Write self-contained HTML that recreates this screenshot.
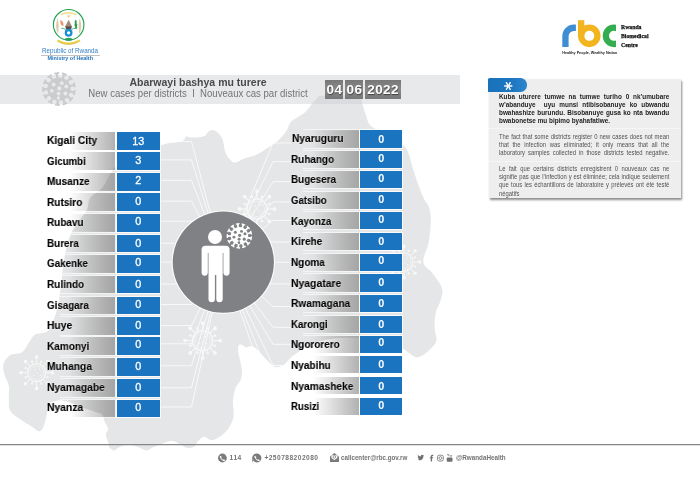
<!DOCTYPE html>
<html><head><meta charset="utf-8">
<style>
*{margin:0;padding:0;box-sizing:border-box}
html,body{width:700px;height:478px;overflow:hidden;background:#fff}
body{font-family:"Liberation Sans",sans-serif;position:relative}
.abs{position:absolute}
#bg{position:absolute;left:0;top:0;width:700px;height:478px}
.banner{position:absolute;left:0;top:75.3px;width:460px;height:28.3px;background:rgba(205,207,210,0.45)}
.row{position:absolute;height:17.7px}
.row.l{left:46px;width:114px}
.row.r{left:289px;width:113px;height:17.2px}
.row .lab{position:absolute;left:0;top:0;height:100%;box-shadow:14px 0 0 1px rgba(255,255,255,0.6);clip-path:inset(-2px -2px -2px 14px);background:linear-gradient(90deg,rgba(255,255,255,0) 0%,rgba(255,255,255,0) 34%,rgba(150,150,150,0.74) 100%)}
.row.l .lab{width:69.4px}
.row.r .lab{width:70px}
.nm{position:absolute;will-change:transform;font-weight:bold;font-size:10.8px;line-height:1.149;color:#000;white-space:nowrap;transform-origin:0 0;text-shadow:0 0 1.2px #fff,0 0 1.2px #fff;-webkit-text-stroke:0.12px #000}
.row .val{position:absolute;right:0;top:0;height:100%;background:#1a74c0;color:#fff;font-size:10.8px;text-align:center;line-height:17.7px;box-shadow:0 0 0 1px rgba(255,255,255,0.8)}
.row.l .val{width:42.7px}
.row.r .val{width:41.7px;font-weight:bold;line-height:17.2px}
.title{position:absolute;left:0;width:396px;text-align:center;white-space:nowrap}
.t1{top:76.1px;font-weight:bold;font-size:10.5px;color:#4a4a4c}
.t2{top:88.0px;font-size:10.4px;color:#737476;transform:scaleX(0.922);transform-origin:198px 0}
.date{position:absolute;top:79.7px;height:19.2px;background:linear-gradient(180deg,#777 0%,#8a8a8a 50%,#777 100%);color:#fff;font-weight:bold;font-size:13.5px;line-height:19px;text-align:center;letter-spacing:0.45px;text-indent:0.4px;text-shadow:0.5px 0.8px 1px rgba(0,0,0,.5)}
.info{position:absolute;left:488.5px;top:78.8px;width:192.5px;height:119.2px;background:#eeeeee;box-shadow:0.5px 1.5px 2px rgba(0,0,0,.45)}
.tab{position:absolute;left:488.3px;top:77.8px;width:38.4px;height:14.4px;background:linear-gradient(90deg,#1a72bb 0%,#1c76c0 60%,#2e86cc 100%);border-radius:1.5px 6.5px 6.5px 0}
.para{position:absolute;left:499.2px;width:189.2px;transform:scaleX(0.9);transform-origin:0 0;font-size:6.5px;line-height:8.05px;color:#505050;white-space:nowrap}
.para div{text-align:justify;text-align-last:justify}
.para div.ll{text-align-last:left}
.para.b{font-weight:bold;color:#1d1d1d;font-size:7.1px;line-height:8.1px}
.foot{position:absolute;top:454.3px;font-size:6.6px;font-weight:bold;color:#737373;white-space:nowrap;letter-spacing:0.1px}
.rbct{font-family:"Liberation Serif",serif;font-weight:bold;font-size:6.300px;line-height:8px;color:#111;white-space:nowrap;transform:scaleX(0.914);-webkit-text-stroke:0.25px #111;transform-origin:0 0}
#wrap{position:absolute;left:0;top:0;width:700px;height:478px;will-change:transform}
.val span{position:relative;display:inline-block}
.row.l .val span{-webkit-text-stroke:0.3px #fff;left:-0.5px}
</style></head><body><div id="wrap">
<svg id="bg" viewBox="0 0 700 478">
<defs><g id="vs"><circle cx="0" cy="0" r="11.6"/><path d="M10.58 1.24L14.71 2.06L15.52 0.70L16.92 1.32L15.87 6.01L14.34 5.97L14.18 4.40L10.10 3.39Z"/><path d="M8.80 6.02L12.06 8.66L13.42 7.84L14.37 9.04L11.26 12.70L9.92 11.95L10.51 10.49L7.37 7.69Z"/><path d="M4.99 9.42L6.66 13.27L8.24 13.17L8.52 14.68L4.07 16.48L3.23 15.20L4.43 14.17L2.95 10.24Z"/><path d="M0.05 10.66L-0.27 14.85L1.17 15.49L0.72 16.96L-4.05 16.48L-4.20 14.96L-2.66 14.61L-2.14 10.44Z"/><path d="M-4.91 9.46L-7.14 13.02L-6.16 14.26L-7.24 15.35L-11.25 12.71L-10.67 11.29L-9.14 11.70L-6.75 8.25Z"/><path d="M-8.74 6.09L-12.37 8.21L-12.08 9.77L-13.54 10.23L-15.86 6.03L-14.70 5.04L-13.53 6.11L-9.81 4.17Z"/><path d="M-10.57 1.33L-14.77 1.52L-15.24 3.03L-16.74 2.76L-16.85 -2.04L-15.35 -2.37L-14.82 -0.88L-10.62 -0.87Z"/><path d="M-9.98 -3.74L-13.79 -5.52L-14.90 -4.40L-16.11 -5.33L-13.97 -9.63L-12.50 -9.23L-12.72 -7.67L-9.00 -5.71Z"/><path d="M-7.10 -7.95L-9.64 -11.29L-11.15 -10.82L-11.79 -12.21L-7.90 -15.02L-6.77 -13.98L-7.70 -12.70L-5.32 -9.24Z"/><path d="M-2.59 -10.34L-3.29 -14.48L-4.85 -14.76L-4.76 -16.29L-0.01 -16.97L0.50 -15.53L-0.91 -14.82L-0.42 -10.65Z"/><path d="M2.51 -10.36L3.82 -14.35L2.57 -15.32L3.35 -16.64L7.88 -15.03L7.66 -13.52L6.08 -13.55L4.58 -9.62Z"/><path d="M7.03 -8.01L10.05 -10.93L9.40 -12.37L10.70 -13.17L13.96 -9.65L13.06 -8.41L11.68 -9.17L8.53 -6.39Z"/><path d="M9.95 -3.82L13.98 -5.01L14.07 -6.59L15.60 -6.69L16.85 -2.06L15.48 -1.38L14.60 -2.69L10.52 -1.70Z"/></g><g id="vh"><circle cx="0.3" cy="-0.6" r="2.1"/><circle cx="-5.4" cy="-4.6" r="2.0"/><circle cx="2.8" cy="-5.8" r="1.9"/><circle cx="7.3" cy="-2.6" r="2.0"/><circle cx="-7.2" cy="1.8" r="1.9"/><circle cx="-0.4" cy="4.6" r="1.9"/><circle cx="6.4" cy="4.4" r="2.0"/><circle cx="-0.6" cy="9.0" r="1.7"/></g><g id="vo"><circle cx="0" cy="0" r="10" fill="none" stroke="currentColor" stroke-width="1.3"/><circle cx="0" cy="0" r="7.6" fill="none" stroke="currentColor" stroke-width="0.6"/><line x1="10.50" y1="0.00" x2="17.50" y2="0.00" stroke-width="1.1" stroke="currentColor"/><circle cx="17.50" cy="0.00" r="1.9" fill="currentColor"/><line x1="9.70" y1="4.02" x2="12.29" y2="5.09" stroke-width="0.8" stroke="currentColor"/><circle cx="12.29" cy="5.09" r="1.2" fill="currentColor"/><line x1="7.42" y1="7.42" x2="12.37" y2="12.37" stroke-width="1.1" stroke="currentColor"/><circle cx="12.37" cy="12.37" r="1.9" fill="currentColor"/><line x1="4.02" y1="9.70" x2="5.09" y2="12.29" stroke-width="0.8" stroke="currentColor"/><circle cx="5.09" cy="12.29" r="1.2" fill="currentColor"/><line x1="0.00" y1="10.50" x2="0.00" y2="17.50" stroke-width="1.1" stroke="currentColor"/><circle cx="0.00" cy="17.50" r="1.9" fill="currentColor"/><line x1="-4.02" y1="9.70" x2="-5.09" y2="12.29" stroke-width="0.8" stroke="currentColor"/><circle cx="-5.09" cy="12.29" r="1.2" fill="currentColor"/><line x1="-7.42" y1="7.42" x2="-12.37" y2="12.37" stroke-width="1.1" stroke="currentColor"/><circle cx="-12.37" cy="12.37" r="1.9" fill="currentColor"/><line x1="-9.70" y1="4.02" x2="-12.29" y2="5.09" stroke-width="0.8" stroke="currentColor"/><circle cx="-12.29" cy="5.09" r="1.2" fill="currentColor"/><line x1="-10.50" y1="0.00" x2="-17.50" y2="0.00" stroke-width="1.1" stroke="currentColor"/><circle cx="-17.50" cy="0.00" r="1.9" fill="currentColor"/><line x1="-9.70" y1="-4.02" x2="-12.29" y2="-5.09" stroke-width="0.8" stroke="currentColor"/><circle cx="-12.29" cy="-5.09" r="1.2" fill="currentColor"/><line x1="-7.42" y1="-7.42" x2="-12.37" y2="-12.37" stroke-width="1.1" stroke="currentColor"/><circle cx="-12.37" cy="-12.37" r="1.9" fill="currentColor"/><line x1="-4.02" y1="-9.70" x2="-5.09" y2="-12.29" stroke-width="0.8" stroke="currentColor"/><circle cx="-5.09" cy="-12.29" r="1.2" fill="currentColor"/><line x1="-0.00" y1="-10.50" x2="-0.00" y2="-17.50" stroke-width="1.1" stroke="currentColor"/><circle cx="-0.00" cy="-17.50" r="1.9" fill="currentColor"/><line x1="4.02" y1="-9.70" x2="5.09" y2="-12.29" stroke-width="0.8" stroke="currentColor"/><circle cx="5.09" cy="-12.29" r="1.2" fill="currentColor"/><line x1="7.42" y1="-7.42" x2="12.37" y2="-12.37" stroke-width="1.1" stroke="currentColor"/><circle cx="12.37" cy="-12.37" r="1.9" fill="currentColor"/><line x1="9.70" y1="-4.02" x2="12.29" y2="-5.09" stroke-width="0.8" stroke="currentColor"/><circle cx="12.29" cy="-5.09" r="1.2" fill="currentColor"/><circle cx="-2" cy="-3" r="0.8" fill="currentColor"/><circle cx="3" cy="-4" r="0.8" fill="currentColor"/><circle cx="1" cy="1" r="0.8" fill="currentColor"/><circle cx="-3" cy="3" r="0.8" fill="currentColor"/><circle cx="4" cy="3" r="0.8" fill="currentColor"/></g></defs>
<path id="map" fill="#e5e6e7" d="M117.0 166.0C121.8 163.2 132.5 159.5 140.0 156.0C147.5 152.5 155.1 147.4 162.0 145.0C168.9 142.6 177.5 142.7 181.6 141.3C185.7 139.9 184.6 137.2 186.4 136.6C188.2 136.0 189.5 137.7 192.5 137.6C195.5 137.5 202.0 137.0 204.6 136.0C207.2 135.0 206.8 132.6 208.3 131.6C209.8 130.6 211.8 129.8 213.6 130.2C215.4 130.6 217.7 132.4 219.2 134.0C220.7 135.6 221.8 137.0 222.8 140.0C223.8 143.0 224.1 148.9 225.3 152.2C226.5 155.4 228.5 157.8 230.1 159.5C231.7 161.2 232.6 162.9 235.0 162.7C237.4 162.5 241.1 159.7 244.7 158.3C248.3 157.0 253.2 156.2 256.8 154.6C260.5 153.0 263.0 151.0 266.6 148.6C270.2 146.2 275.5 142.8 278.7 140.0C281.9 137.2 284.0 134.6 286.0 131.6C288.0 128.6 288.8 124.3 290.8 121.9C292.8 119.5 295.6 118.7 298.0 117.0C300.4 115.3 303.0 114.3 305.4 112.0C307.8 109.7 310.4 105.6 312.3 103.4C314.2 101.2 315.1 100.1 316.5 98.8C317.9 97.5 317.1 96.4 321.0 95.8C324.9 95.2 333.9 95.2 340.0 95.2C346.1 95.2 354.1 95.2 357.5 95.7C360.9 96.2 359.8 97.2 360.6 98.5C361.4 99.8 361.5 100.9 362.3 103.4C363.1 105.9 364.0 109.7 365.4 113.4C366.8 117.1 367.4 122.5 370.7 125.8C374.0 129.1 379.8 130.0 385.0 133.0C390.2 136.0 398.2 140.8 402.0 144.0C405.8 147.2 406.3 148.2 408.0 152.0C409.7 155.8 410.9 162.0 412.4 166.8C413.9 171.6 415.1 175.7 417.0 181.0C418.9 186.3 422.0 194.5 424.0 198.8C426.0 203.1 427.8 203.7 428.9 207.0C430.0 210.3 430.8 213.1 430.8 218.8C430.8 224.5 430.1 234.2 428.9 241.4C427.6 248.6 422.7 256.7 423.3 262.0C423.9 267.3 429.6 269.0 432.7 273.4C435.8 277.8 440.9 283.7 442.1 288.4C443.4 293.1 441.3 297.5 440.2 301.6C439.1 305.7 436.6 308.5 435.7 312.9C434.8 317.3 434.5 323.2 434.6 327.9C434.7 332.6 437.3 337.3 436.4 341.1C435.4 344.9 432.0 347.8 428.9 350.5C425.8 353.2 421.1 357.0 417.6 357.3C414.2 357.6 410.7 353.8 408.2 352.4C405.7 350.9 407.3 350.7 402.6 348.6C397.9 346.5 390.4 341.8 380.0 340.0C369.6 338.2 351.7 337.3 340.0 338.0C328.3 338.7 316.7 341.8 310.0 344.0C303.3 346.2 303.0 348.9 300.0 351.0C297.0 353.1 294.7 354.2 292.0 356.5C289.3 358.8 286.0 363.1 283.7 364.9C281.4 366.6 279.8 366.8 278.0 367.0C276.2 367.2 275.5 367.6 273.2 365.9C270.9 364.2 267.0 360.0 264.0 357.0C261.0 354.0 257.7 349.8 255.4 348.0C253.1 346.2 251.6 346.4 250.0 346.3C248.4 346.2 247.2 347.8 246.0 347.6C244.8 347.4 244.1 345.8 243.0 345.3C241.9 344.8 240.0 344.2 239.2 344.8C238.4 345.4 238.1 347.4 238.0 349.0C237.9 350.6 238.1 351.1 238.7 354.4C239.3 357.7 241.5 364.8 241.8 369.0C242.2 373.2 241.8 376.4 240.8 379.5C239.8 382.6 236.9 384.4 235.6 387.9C234.3 391.4 233.3 396.1 233.0 400.4C232.7 404.7 233.9 410.2 233.7 413.8C233.5 417.4 233.3 418.8 232.0 421.7C230.7 424.6 228.6 428.6 226.0 431.4C223.4 434.2 218.9 437.3 216.3 438.7C213.7 440.1 212.2 440.3 210.2 440.0C208.2 439.7 206.1 436.6 204.1 436.8C202.1 437.0 199.6 439.5 198.0 441.1C196.4 442.7 196.2 445.4 194.4 446.5C192.6 447.6 189.3 448.3 187.1 448.0C184.9 447.7 183.4 445.9 181.0 444.8C178.6 443.7 175.2 441.5 172.6 441.1C170.0 440.7 168.6 441.4 165.3 442.4C162.1 443.4 156.2 445.9 153.1 447.2C150.0 448.5 149.4 450.4 147.0 450.4C144.6 450.4 141.6 448.1 138.6 447.2C135.6 446.3 132.2 445.0 128.9 445.0C125.7 445.0 121.5 446.3 119.1 447.2C116.7 448.1 115.9 450.4 114.3 450.4C112.7 450.4 110.4 448.5 109.4 447.2C108.4 445.9 108.8 444.6 108.2 442.4C107.6 440.2 105.8 436.1 105.8 433.9C105.8 431.7 108.4 431.0 108.2 429.0C108.0 427.0 105.6 424.1 104.6 421.7C103.6 419.3 103.6 416.2 102.0 414.5C100.4 412.8 98.1 412.8 95.0 411.7C91.9 410.6 87.2 409.4 83.4 408.0C79.6 406.6 75.5 404.6 72.0 403.3C68.5 402.1 65.2 400.9 62.4 400.5C59.6 400.1 57.3 400.4 55.0 401.0C52.7 401.6 49.9 401.9 48.5 404.0C47.1 406.1 47.7 410.1 46.9 413.7C46.1 417.3 45.1 422.5 43.9 425.4C42.7 428.3 41.5 431.1 39.5 431.3C37.5 431.6 35.4 428.8 32.2 426.9C29.0 424.9 24.2 422.3 20.5 419.6C16.8 416.9 12.1 414.2 10.2 410.8C8.2 407.4 9.0 403.1 8.8 399.0C8.6 394.9 9.5 390.0 8.8 385.9C8.1 381.8 5.3 377.9 4.4 374.2C3.5 370.5 2.5 367.1 3.5 363.9C4.5 360.7 7.1 357.1 10.2 355.1C13.3 353.2 18.8 354.4 22.0 352.2C25.2 350.0 27.1 344.9 29.3 342.0C31.5 339.1 32.2 336.3 35.1 334.6C38.0 332.9 44.1 333.5 46.9 331.7C49.7 329.9 50.1 328.3 52.0 324.0C53.9 319.7 56.5 312.5 58.0 306.0C59.5 299.5 60.0 292.7 61.0 285.0C62.0 277.3 62.5 268.2 64.0 260.0C65.5 251.8 67.5 242.5 70.0 236.0C72.5 229.5 76.2 225.3 79.0 221.0C81.8 216.7 85.2 213.8 87.0 210.0C88.8 206.2 87.5 201.7 90.0 198.0C92.5 194.3 98.5 192.2 102.0 188.0C105.5 183.8 108.5 176.7 111.0 173.0C113.5 169.3 112.2 168.8 117.0 166.0Z"/>
<linearGradient id="dkl" gradientUnits="userSpaceOnUse" x1="60" y1="0" x2="116" y2="0"><stop offset="0" stop-color="#000" stop-opacity="0"/><stop offset="1" stop-color="#000" stop-opacity="0.11"/></linearGradient>
<linearGradient id="dkr" gradientUnits="userSpaceOnUse" x1="303" y1="0" x2="359" y2="0"><stop offset="0" stop-color="#000" stop-opacity="0"/><stop offset="1" stop-color="#000" stop-opacity="0.09"/></linearGradient>
<clipPath id="lcl"><rect x="46" y="132.20" width="69.4" height="17.7"/><rect x="46" y="152.20" width="69.4" height="17.7"/><rect x="46" y="172.90" width="69.4" height="17.7"/><rect x="46" y="193.20" width="69.4" height="17.7"/><rect x="46" y="213.90" width="69.4" height="17.7"/><rect x="46" y="234.80" width="69.4" height="17.7"/><rect x="46" y="255.00" width="69.4" height="17.7"/><rect x="46" y="275.80" width="69.4" height="17.7"/><rect x="46" y="296.80" width="69.4" height="17.7"/><rect x="46" y="317.40" width="69.4" height="17.7"/><rect x="46" y="337.20" width="69.4" height="17.7"/><rect x="46" y="358.00" width="69.4" height="17.7"/><rect x="46" y="378.90" width="69.4" height="17.7"/><rect x="46" y="399.60" width="69.4" height="17.7"/></clipPath><clipPath id="lcr"><rect x="289" y="130.40" width="70" height="17.2"/><rect x="289" y="150.90" width="70" height="17.2"/><rect x="289" y="171.30" width="70" height="17.2"/><rect x="289" y="191.80" width="70" height="17.2"/><rect x="289" y="212.30" width="70" height="17.2"/><rect x="289" y="233.00" width="70" height="17.2"/><rect x="289" y="253.60" width="70" height="17.2"/><rect x="289" y="274.40" width="70" height="17.2"/><rect x="289" y="295.30" width="70" height="17.2"/><rect x="289" y="315.80" width="70" height="17.2"/><rect x="289" y="335.60" width="70" height="17.2"/><rect x="289" y="356.30" width="70" height="17.2"/><rect x="289" y="377.20" width="70" height="17.2"/><rect x="289" y="398.30" width="70" height="17.2"/></clipPath>
<path d="M117.0 166.0C121.8 163.2 132.5 159.5 140.0 156.0C147.5 152.5 155.1 147.4 162.0 145.0C168.9 142.6 177.5 142.7 181.6 141.3C185.7 139.9 184.6 137.2 186.4 136.6C188.2 136.0 189.5 137.7 192.5 137.6C195.5 137.5 202.0 137.0 204.6 136.0C207.2 135.0 206.8 132.6 208.3 131.6C209.8 130.6 211.8 129.8 213.6 130.2C215.4 130.6 217.7 132.4 219.2 134.0C220.7 135.6 221.8 137.0 222.8 140.0C223.8 143.0 224.1 148.9 225.3 152.2C226.5 155.4 228.5 157.8 230.1 159.5C231.7 161.2 232.6 162.9 235.0 162.7C237.4 162.5 241.1 159.7 244.7 158.3C248.3 157.0 253.2 156.2 256.8 154.6C260.5 153.0 263.0 151.0 266.6 148.6C270.2 146.2 275.5 142.8 278.7 140.0C281.9 137.2 284.0 134.6 286.0 131.6C288.0 128.6 288.8 124.3 290.8 121.9C292.8 119.5 295.6 118.7 298.0 117.0C300.4 115.3 303.0 114.3 305.4 112.0C307.8 109.7 310.4 105.6 312.3 103.4C314.2 101.2 315.1 100.1 316.5 98.8C317.9 97.5 317.1 96.4 321.0 95.8C324.9 95.2 333.9 95.2 340.0 95.2C346.1 95.2 354.1 95.2 357.5 95.7C360.9 96.2 359.8 97.2 360.6 98.5C361.4 99.8 361.5 100.9 362.3 103.4C363.1 105.9 364.0 109.7 365.4 113.4C366.8 117.1 367.4 122.5 370.7 125.8C374.0 129.1 379.8 130.0 385.0 133.0C390.2 136.0 398.2 140.8 402.0 144.0C405.8 147.2 406.3 148.2 408.0 152.0C409.7 155.8 410.9 162.0 412.4 166.8C413.9 171.6 415.1 175.7 417.0 181.0C418.9 186.3 422.0 194.5 424.0 198.8C426.0 203.1 427.8 203.7 428.9 207.0C430.0 210.3 430.8 213.1 430.8 218.8C430.8 224.5 430.1 234.2 428.9 241.4C427.6 248.6 422.7 256.7 423.3 262.0C423.9 267.3 429.6 269.0 432.7 273.4C435.8 277.8 440.9 283.7 442.1 288.4C443.4 293.1 441.3 297.5 440.2 301.6C439.1 305.7 436.6 308.5 435.7 312.9C434.8 317.3 434.5 323.2 434.6 327.9C434.7 332.6 437.3 337.3 436.4 341.1C435.4 344.9 432.0 347.8 428.9 350.5C425.8 353.2 421.1 357.0 417.6 357.3C414.2 357.6 410.7 353.8 408.2 352.4C405.7 350.9 407.3 350.7 402.6 348.6C397.9 346.5 390.4 341.8 380.0 340.0C369.6 338.2 351.7 337.3 340.0 338.0C328.3 338.7 316.7 341.8 310.0 344.0C303.3 346.2 303.0 348.9 300.0 351.0C297.0 353.1 294.7 354.2 292.0 356.5C289.3 358.8 286.0 363.1 283.7 364.9C281.4 366.6 279.8 366.8 278.0 367.0C276.2 367.2 275.5 367.6 273.2 365.9C270.9 364.2 267.0 360.0 264.0 357.0C261.0 354.0 257.7 349.8 255.4 348.0C253.1 346.2 251.6 346.4 250.0 346.3C248.4 346.2 247.2 347.8 246.0 347.6C244.8 347.4 244.1 345.8 243.0 345.3C241.9 344.8 240.0 344.2 239.2 344.8C238.4 345.4 238.1 347.4 238.0 349.0C237.9 350.6 238.1 351.1 238.7 354.4C239.3 357.7 241.5 364.8 241.8 369.0C242.2 373.2 241.8 376.4 240.8 379.5C239.8 382.6 236.9 384.4 235.6 387.9C234.3 391.4 233.3 396.1 233.0 400.4C232.7 404.7 233.9 410.2 233.7 413.8C233.5 417.4 233.3 418.8 232.0 421.7C230.7 424.6 228.6 428.6 226.0 431.4C223.4 434.2 218.9 437.3 216.3 438.7C213.7 440.1 212.2 440.3 210.2 440.0C208.2 439.7 206.1 436.6 204.1 436.8C202.1 437.0 199.6 439.5 198.0 441.1C196.4 442.7 196.2 445.4 194.4 446.5C192.6 447.6 189.3 448.3 187.1 448.0C184.9 447.7 183.4 445.9 181.0 444.8C178.6 443.7 175.2 441.5 172.6 441.1C170.0 440.7 168.6 441.4 165.3 442.4C162.1 443.4 156.2 445.9 153.1 447.2C150.0 448.5 149.4 450.4 147.0 450.4C144.6 450.4 141.6 448.1 138.6 447.2C135.6 446.3 132.2 445.0 128.9 445.0C125.7 445.0 121.5 446.3 119.1 447.2C116.7 448.1 115.9 450.4 114.3 450.4C112.7 450.4 110.4 448.5 109.4 447.2C108.4 445.9 108.8 444.6 108.2 442.4C107.6 440.2 105.8 436.1 105.8 433.9C105.8 431.7 108.4 431.0 108.2 429.0C108.0 427.0 105.6 424.1 104.6 421.7C103.6 419.3 103.6 416.2 102.0 414.5C100.4 412.8 98.1 412.8 95.0 411.7C91.9 410.6 87.2 409.4 83.4 408.0C79.6 406.6 75.5 404.6 72.0 403.3C68.5 402.1 65.2 400.9 62.4 400.5C59.6 400.1 57.3 400.4 55.0 401.0C52.7 401.6 49.9 401.9 48.5 404.0C47.1 406.1 47.7 410.1 46.9 413.7C46.1 417.3 45.1 422.5 43.9 425.4C42.7 428.3 41.5 431.1 39.5 431.3C37.5 431.6 35.4 428.8 32.2 426.9C29.0 424.9 24.2 422.3 20.5 419.6C16.8 416.9 12.1 414.2 10.2 410.8C8.2 407.4 9.0 403.1 8.8 399.0C8.6 394.9 9.5 390.0 8.8 385.9C8.1 381.8 5.3 377.9 4.4 374.2C3.5 370.5 2.5 367.1 3.5 363.9C4.5 360.7 7.1 357.1 10.2 355.1C13.3 353.2 18.8 354.4 22.0 352.2C25.2 350.0 27.1 344.9 29.3 342.0C31.5 339.1 32.2 336.3 35.1 334.6C38.0 332.9 44.1 333.5 46.9 331.7C49.7 329.9 50.1 328.3 52.0 324.0C53.9 319.7 56.5 312.5 58.0 306.0C59.5 299.5 60.0 292.7 61.0 285.0C62.0 277.3 62.5 268.2 64.0 260.0C65.5 251.8 67.5 242.5 70.0 236.0C72.5 229.5 76.2 225.3 79.0 221.0C81.8 216.7 85.2 213.8 87.0 210.0C88.8 206.2 87.5 201.7 90.0 198.0C92.5 194.3 98.5 192.2 102.0 188.0C105.5 183.8 108.5 176.7 111.0 173.0C113.5 169.3 112.2 168.8 117.0 166.0Z" fill="url(#dkl)" clip-path="url(#lcl)"/><path d="M117.0 166.0C121.8 163.2 132.5 159.5 140.0 156.0C147.5 152.5 155.1 147.4 162.0 145.0C168.9 142.6 177.5 142.7 181.6 141.3C185.7 139.9 184.6 137.2 186.4 136.6C188.2 136.0 189.5 137.7 192.5 137.6C195.5 137.5 202.0 137.0 204.6 136.0C207.2 135.0 206.8 132.6 208.3 131.6C209.8 130.6 211.8 129.8 213.6 130.2C215.4 130.6 217.7 132.4 219.2 134.0C220.7 135.6 221.8 137.0 222.8 140.0C223.8 143.0 224.1 148.9 225.3 152.2C226.5 155.4 228.5 157.8 230.1 159.5C231.7 161.2 232.6 162.9 235.0 162.7C237.4 162.5 241.1 159.7 244.7 158.3C248.3 157.0 253.2 156.2 256.8 154.6C260.5 153.0 263.0 151.0 266.6 148.6C270.2 146.2 275.5 142.8 278.7 140.0C281.9 137.2 284.0 134.6 286.0 131.6C288.0 128.6 288.8 124.3 290.8 121.9C292.8 119.5 295.6 118.7 298.0 117.0C300.4 115.3 303.0 114.3 305.4 112.0C307.8 109.7 310.4 105.6 312.3 103.4C314.2 101.2 315.1 100.1 316.5 98.8C317.9 97.5 317.1 96.4 321.0 95.8C324.9 95.2 333.9 95.2 340.0 95.2C346.1 95.2 354.1 95.2 357.5 95.7C360.9 96.2 359.8 97.2 360.6 98.5C361.4 99.8 361.5 100.9 362.3 103.4C363.1 105.9 364.0 109.7 365.4 113.4C366.8 117.1 367.4 122.5 370.7 125.8C374.0 129.1 379.8 130.0 385.0 133.0C390.2 136.0 398.2 140.8 402.0 144.0C405.8 147.2 406.3 148.2 408.0 152.0C409.7 155.8 410.9 162.0 412.4 166.8C413.9 171.6 415.1 175.7 417.0 181.0C418.9 186.3 422.0 194.5 424.0 198.8C426.0 203.1 427.8 203.7 428.9 207.0C430.0 210.3 430.8 213.1 430.8 218.8C430.8 224.5 430.1 234.2 428.9 241.4C427.6 248.6 422.7 256.7 423.3 262.0C423.9 267.3 429.6 269.0 432.7 273.4C435.8 277.8 440.9 283.7 442.1 288.4C443.4 293.1 441.3 297.5 440.2 301.6C439.1 305.7 436.6 308.5 435.7 312.9C434.8 317.3 434.5 323.2 434.6 327.9C434.7 332.6 437.3 337.3 436.4 341.1C435.4 344.9 432.0 347.8 428.9 350.5C425.8 353.2 421.1 357.0 417.6 357.3C414.2 357.6 410.7 353.8 408.2 352.4C405.7 350.9 407.3 350.7 402.6 348.6C397.9 346.5 390.4 341.8 380.0 340.0C369.6 338.2 351.7 337.3 340.0 338.0C328.3 338.7 316.7 341.8 310.0 344.0C303.3 346.2 303.0 348.9 300.0 351.0C297.0 353.1 294.7 354.2 292.0 356.5C289.3 358.8 286.0 363.1 283.7 364.9C281.4 366.6 279.8 366.8 278.0 367.0C276.2 367.2 275.5 367.6 273.2 365.9C270.9 364.2 267.0 360.0 264.0 357.0C261.0 354.0 257.7 349.8 255.4 348.0C253.1 346.2 251.6 346.4 250.0 346.3C248.4 346.2 247.2 347.8 246.0 347.6C244.8 347.4 244.1 345.8 243.0 345.3C241.9 344.8 240.0 344.2 239.2 344.8C238.4 345.4 238.1 347.4 238.0 349.0C237.9 350.6 238.1 351.1 238.7 354.4C239.3 357.7 241.5 364.8 241.8 369.0C242.2 373.2 241.8 376.4 240.8 379.5C239.8 382.6 236.9 384.4 235.6 387.9C234.3 391.4 233.3 396.1 233.0 400.4C232.7 404.7 233.9 410.2 233.7 413.8C233.5 417.4 233.3 418.8 232.0 421.7C230.7 424.6 228.6 428.6 226.0 431.4C223.4 434.2 218.9 437.3 216.3 438.7C213.7 440.1 212.2 440.3 210.2 440.0C208.2 439.7 206.1 436.6 204.1 436.8C202.1 437.0 199.6 439.5 198.0 441.1C196.4 442.7 196.2 445.4 194.4 446.5C192.6 447.6 189.3 448.3 187.1 448.0C184.9 447.7 183.4 445.9 181.0 444.8C178.6 443.7 175.2 441.5 172.6 441.1C170.0 440.7 168.6 441.4 165.3 442.4C162.1 443.4 156.2 445.9 153.1 447.2C150.0 448.5 149.4 450.4 147.0 450.4C144.6 450.4 141.6 448.1 138.6 447.2C135.6 446.3 132.2 445.0 128.9 445.0C125.7 445.0 121.5 446.3 119.1 447.2C116.7 448.1 115.9 450.4 114.3 450.4C112.7 450.4 110.4 448.5 109.4 447.2C108.4 445.9 108.8 444.6 108.2 442.4C107.6 440.2 105.8 436.1 105.8 433.9C105.8 431.7 108.4 431.0 108.2 429.0C108.0 427.0 105.6 424.1 104.6 421.7C103.6 419.3 103.6 416.2 102.0 414.5C100.4 412.8 98.1 412.8 95.0 411.7C91.9 410.6 87.2 409.4 83.4 408.0C79.6 406.6 75.5 404.6 72.0 403.3C68.5 402.1 65.2 400.9 62.4 400.5C59.6 400.1 57.3 400.4 55.0 401.0C52.7 401.6 49.9 401.9 48.5 404.0C47.1 406.1 47.7 410.1 46.9 413.7C46.1 417.3 45.1 422.5 43.9 425.4C42.7 428.3 41.5 431.1 39.5 431.3C37.5 431.6 35.4 428.8 32.2 426.9C29.0 424.9 24.2 422.3 20.5 419.6C16.8 416.9 12.1 414.2 10.2 410.8C8.2 407.4 9.0 403.1 8.8 399.0C8.6 394.9 9.5 390.0 8.8 385.9C8.1 381.8 5.3 377.9 4.4 374.2C3.5 370.5 2.5 367.1 3.5 363.9C4.5 360.7 7.1 357.1 10.2 355.1C13.3 353.2 18.8 354.4 22.0 352.2C25.2 350.0 27.1 344.9 29.3 342.0C31.5 339.1 32.2 336.3 35.1 334.6C38.0 332.9 44.1 333.5 46.9 331.7C49.7 329.9 50.1 328.3 52.0 324.0C53.9 319.7 56.5 312.5 58.0 306.0C59.5 299.5 60.0 292.7 61.0 285.0C62.0 277.3 62.5 268.2 64.0 260.0C65.5 251.8 67.5 242.5 70.0 236.0C72.5 229.5 76.2 225.3 79.0 221.0C81.8 216.7 85.2 213.8 87.0 210.0C88.8 206.2 87.5 201.7 90.0 198.0C92.5 194.3 98.5 192.2 102.0 188.0C105.5 183.8 108.5 176.7 111.0 173.0C113.5 169.3 112.2 168.8 117.0 166.0Z" fill="url(#dkr)" clip-path="url(#lcr)"/>
<path d="M160 141.6H191.5L223.3 262.2 M160 159.9H191.5L223.3 262.2 M160 180.3H191.5L223.3 262.2 M160 201.1H191.5L223.3 262.2 M160 221.2H191.5L223.3 262.2 M160 243.2H223.3 M160 262.1H223.3 M160 284.1H223.3 M160 304.5H191.5L223.3 262.2 M160 325.6H191.5L223.3 262.2 M160 343.8H191.5L223.3 262.2 M160 365.8H191.5L223.3 262.2 M160 387.8H191.5L223.3 262.2 M160 407.0H191.5L223.3 262.2 M291 143.0H273.0L223.3 262.2 M291 161.6H273.0L223.3 262.2 M291 181.7H273.0L223.3 262.2 M291 201.9H273.0L223.3 262.2 M291 220.4H273.0L223.3 262.2 M291 242.0H223.3 M291 262.2H223.3 M291 283.9H223.3 M291 306.5H273.0L223.3 262.2 M291 327.3H273.0L223.3 262.2 M291 344.3H273.0L223.3 262.2 M291 365.5H273.0L223.3 262.2 M291 386.0H273.0L223.3 262.2 M291 406.6H273.0L223.3 262.2" fill="none" stroke="#fff" stroke-opacity="0.75" stroke-width="1"/>
<g color="#f8f8f8">
<use href="#vo" transform="translate(257,209)"/>
<use href="#vo" transform="translate(202.6,340.6)"/>
<use href="#vo" transform="translate(36.6,372.7) scale(0.9)"/>
<use href="#vo" transform="translate(404,262) scale(0.9)"/>
</g>
<line x1="0" y1="444.6" x2="700" y2="444.6" stroke="#858585" stroke-width="1.4"/>
</svg>
<div class="banner"></div>
<svg class="abs" style="left:0;top:0" width="700" height="478" viewBox="0 0 700 478">
<g fill="#cbcccd"><use href="#vs" transform="translate(59,89)"/></g><g fill="#e8e9ea"><use href="#vh" transform="translate(59,89)"/></g>
<!-- centre circle -->
<circle cx="223.3" cy="262.2" r="51.6" fill="#fff"/>
<circle cx="223.3" cy="262.2" r="50.6" fill="#808184"/>
<g fill="#fff">
<circle cx="215" cy="237" r="7"/>
<path d="M204.2 245.7 H225.8 a3.8 3.8 0 0 1 3.8 3.8 V272.6 a3.1 3.1 0 0 1 -6.2 0 V253 h-0.7 V299 a3.2 3.2 0 0 1 -6.4 0 V275 h-1.4 V299 a3.2 3.2 0 0 1 -6.4 0 V253 h-0.7 V272.6 a3.1 3.1 0 0 1 -6.2 0 V249.5 a3.8 3.8 0 0 1 3.8 -3.8 Z"/>
</g>
<g fill="#fff"><use href="#vs" transform="translate(239.4,235.8) scale(0.76)"/></g><g fill="#808184"><use href="#vh" transform="translate(239.4,235.8) scale(0.76)"/></g>
</svg>
<!-- Rwanda coat of arms -->
<svg class="abs" style="left:40px;top:0" width="70" height="70" viewBox="40 0 70 70">
<circle cx="68.65" cy="24.8" r="15.25" fill="#fff" stroke="#22a355" stroke-width="1.15"/>
<path d="M61 14.6 Q68.6 10.9 76.4 14.6" fill="none" stroke="#ead666" stroke-width="1.4" opacity=".8"/>
<circle cx="68.6" cy="16.3" r="1.15" fill="#efd04a"/>
<path d="M57.6 18.2 Q54.4 26 57.9 34 Q59.600 26 57.6 18.2Z" fill="#dccaa8"/>
<path d="M79.700 18.2 Q82.900 26 79.400 34 Q77.700 26 79.700 18.2Z" fill="#dccaa8"/>
<path d="M60.400 20 q3 1.200 3.200 5.600 q-1.600 .6 -2.700 -1.200 q-1 -2 -.5 -4.400z" fill="#e8926a"/>
<path d="M68.600 19.800 l3.700 7.200 h-7.400z" fill="#a08a78"/>
<path d="M65.400 26.600 h6.400 l-.6 2.600 h-5.200z" fill="#5a4840"/>
<path d="M75.800 19.400 q1.900 1.800 .6 3.700 q1.800 1 .5 3.200 q1 1.600 -.6 3 q-1.600 -.8 -1.300 -2.800 q-1.200 -1.400 -.1 -3 q-.8 -2 .9 -4.100z" fill="#2f9c55"/>
<path d="M61.400 28.400 q2.600 -.8 4.400 1.600 M75.800 28.400 q-2.600 -.8 -4.400 1.600" stroke="#3aa585" stroke-width=".9" fill="none"/>
<circle cx="68.6" cy="32.800" r="2.800" fill="#fff" stroke="#1b8fd4" stroke-width="2.300"/>
<ellipse cx="68.600" cy="39.200" rx="3.600" ry="1.500" fill="#27a257"/>
<path d="M57.300 40.600 Q68.600 46.900 80 40.600" fill="none" stroke="#ecd24e" stroke-width="2.300"/>
<path d="M59.500 42.100 Q68.600 46.500 77.800 42.100" fill="none" stroke="#8a7a2e" stroke-width=".5" stroke-dasharray=".7 .5" opacity=".7"/>
</svg>
<div class="abs" style="left:42px;top:46.9px;font-size:6.28px;color:#3581c5;white-space:nowrap" id="rr">Republic of Rwanda</div>
<div class="abs" style="left:41px;top:55px;width:58.500px;height:0.7px;background:#c2c2c2"></div>
<div class="abs" style="left:47.6px;top:55.2px;font-size:5.42px;font-weight:bold;color:#2273ba;white-space:nowrap" id="mh">Ministry of Health</div>
<!-- RBC logo -->
<svg class="abs" style="left:550px;top:10px" width="80" height="50" viewBox="550 10 80 50">
<path d="M565.45 47 V36.2 a8.45 8.45 0 0 1 8.45 -8.45 H575.9" fill="none" stroke="#3f8ed4" stroke-width="6.3"/>
<rect x="578" y="20.2" width="6.3" height="16" fill="#f2b41f"/>
<circle cx="589.3" cy="35.85" r="8.15" fill="none" stroke="#f2b41f" stroke-width="6.3"/>
<clipPath id="cc"><rect x="600" y="20" width="16" height="30"/></clipPath>
<circle cx="614" cy="35.85" r="8.15" fill="none" stroke="#33ad4f" stroke-width="6.3" clip-path="url(#cc)"/>
</svg>
<div class="abs rbct" style="left:620.8px;top:22.900px" id="rb1">Rwanda</div>
<div class="abs rbct" style="left:620.8px;top:32.300px" id="rb2">Biomedical</div>
<div class="abs rbct" style="left:620.8px;top:41.300px" id="rb3">Centre</div>
<div class="abs" style="left:562.3px;top:50.700px;font-size:3.700px;font-weight:bold;color:#222;white-space:nowrap;transform-origin:0 0" id="rbtag">Healthy People, Wealthy Nation</div>
<div class="row l" style="top:132.20px"><div class="lab"></div><div class="val"><span style="top:1.10px">13</span></div></div>
<span class="nm" style="left:47.3px;top:134.38px;transform:scaleX(0.9506)">Kigali City</span>
<div class="row l" style="top:152.20px"><div class="lab"></div><div class="val"><span style="top:-0.60px">3</span></div></div>
<span class="nm" style="left:47.3px;top:154.89px;transform:scaleX(0.8957)">Gicumbi</span>
<div class="row l" style="top:172.90px"><div class="lab"></div><div class="val"><span style="top:-0.90px">2</span></div></div>
<span class="nm" style="left:47.3px;top:175.41px;transform:scaleX(0.9363)">Musanze</span>
<div class="row l" style="top:193.20px"><div class="lab"></div><div class="val"><span style="top:-0.40px">0</span></div></div>
<span class="nm" style="left:47.3px;top:195.93px;transform:scaleX(0.9339)">Rutsiro</span>
<div class="row l" style="top:213.90px"><div class="lab"></div><div class="val"><span style="top:-1.00px">0</span></div></div>
<span class="nm" style="left:47.3px;top:216.44px;transform:scaleX(0.9217)">Rubavu</span>
<div class="row l" style="top:234.80px"><div class="lab"></div><div class="val"><span style="top:0.10px">0</span></div></div>
<span class="nm" style="left:47.3px;top:236.96px;transform:scaleX(0.9163)">Burera</span>
<div class="row l" style="top:255.00px"><div class="lab"></div><div class="val"><span style="top:-1.20px">0</span></div></div>
<span class="nm" style="left:47.3px;top:257.48px;transform:scaleX(0.9083)">Gakenke</span>
<div class="row l" style="top:275.80px"><div class="lab"></div><div class="val"><span style="top:0.00px">0</span></div></div>
<span class="nm" style="left:47.3px;top:278.00px;transform:scaleX(0.9257)">Rulindo</span>
<div class="row l" style="top:296.80px"><div class="lab"></div><div class="val"><span style="top:-0.60px">0</span></div></div>
<span class="nm" style="left:47.3px;top:298.51px;transform:scaleX(0.9043)">Gisagara</span>
<div class="row l" style="top:317.40px"><div class="lab"></div><div class="val"><span style="top:-0.10px">0</span></div></div>
<span class="nm" style="left:47.3px;top:319.03px;transform:scaleX(0.9505)">Huye</span>
<div class="row l" style="top:337.20px"><div class="lab"></div><div class="val"><span style="top:-1.70px">0</span></div></div>
<span class="nm" style="left:47.3px;top:339.55px;transform:scaleX(0.9297)">Kamonyi</span>
<div class="row l" style="top:358.00px"><div class="lab"></div><div class="val"><span style="top:-0.50px">0</span></div></div>
<span class="nm" style="left:47.3px;top:360.06px;transform:scaleX(0.9474)">Muhanga</span>
<div class="row l" style="top:378.90px"><div class="lab"></div><div class="val"><span style="top:0.60px">0</span></div></div>
<span class="nm" style="left:47.3px;top:380.58px;transform:scaleX(0.9550)">Nyamagabe</span>
<div class="row l" style="top:399.60px"><div class="lab"></div><div class="val"><span style="top:-0.90px">0</span></div></div>
<span class="nm" style="left:47.3px;top:401.10px;transform:scaleX(0.9573)">Nyanza</span>
<div class="row r" style="top:130.40px"><div class="lab"></div><div class="val"><span style="top:0.25px">0</span></div></div>
<span class="nm" style="left:291.8px;top:132.21px;transform:scaleX(0.9431)">Nyaruguru</span>
<div class="row r" style="top:150.90px"><div class="lab"></div><div class="val"><span style="top:-1.05px">0</span></div></div>
<span class="nm" style="left:290.9px;top:152.82px;transform:scaleX(0.9212)">Ruhango</span>
<div class="row r" style="top:171.30px"><div class="lab"></div><div class="val"><span style="top:-1.05px">0</span></div></div>
<span class="nm" style="left:290.9px;top:173.44px;transform:scaleX(0.9143)">Bugesera</span>
<div class="row r" style="top:191.80px"><div class="lab"></div><div class="val"><span style="top:-0.75px">0</span></div></div>
<span class="nm" style="left:290.9px;top:194.05px;transform:scaleX(0.8880)">Gatsibo</span>
<div class="row r" style="top:212.30px"><div class="lab"></div><div class="val"><span style="top:-1.15px">0</span></div></div>
<span class="nm" style="left:290.9px;top:214.67px;transform:scaleX(0.9074)">Kayonza</span>
<div class="row r" style="top:233.00px"><div class="lab"></div><div class="val"><span style="top:0.15px">0</span></div></div>
<span class="nm" style="left:290.9px;top:235.28px;transform:scaleX(0.9312)">Kirehe</span>
<div class="row r" style="top:253.60px"><div class="lab"></div><div class="val"><span style="top:-1.55px">0</span></div></div>
<span class="nm" style="left:290.9px;top:255.90px;transform:scaleX(0.9234)">Ngoma</span>
<div class="row r" style="top:274.40px"><div class="lab"></div><div class="val"><span style="top:-0.06px">0</span></div></div>
<span class="nm" style="left:290.9px;top:276.51px;transform:scaleX(0.9631)">Nyagatare</span>
<div class="row r" style="top:295.30px"><div class="lab"></div><div class="val"><span style="top:-0.54px">0</span></div></div>
<span class="nm" style="left:290.9px;top:297.13px;transform:scaleX(0.9394)">Rwamagana</span>
<div class="row r" style="top:315.80px"><div class="lab"></div><div class="val"><span style="top:0.03px">0</span></div></div>
<span class="nm" style="left:290.9px;top:317.74px;transform:scaleX(0.8971)">Karongi</span>
<div class="row r" style="top:335.60px"><div class="lab"></div><div class="val"><span style="top:-1.55px">0</span></div></div>
<span class="nm" style="left:290.9px;top:338.36px;transform:scaleX(0.9223)">Ngororero</span>
<div class="row r" style="top:356.30px"><div class="lab"></div><div class="val"><span style="top:-0.23px">0</span></div></div>
<span class="nm" style="left:290.9px;top:358.97px;transform:scaleX(0.9319)">Nyabihu</span>
<div class="row r" style="top:377.20px"><div class="lab"></div><div class="val"><span style="top:0.86px">0</span></div></div>
<span class="nm" style="left:290.9px;top:379.59px;transform:scaleX(0.9449)">Nyamasheke</span>
<div class="row r" style="top:398.30px"><div class="lab"></div><div class="val"><span style="top:-1.04px">0</span></div></div>
<span class="nm" style="left:290.9px;top:400.20px;transform:scaleX(0.8867)">Rusizi</span>
<div class="title t1">Abarwayi bashya mu turere</div>
<div class="title t2">New cases per districts &nbsp;I&nbsp; Nouveaux cas par district</div>
<div class="date" style="left:325.2px;width:18px">04</div>
<div class="date" style="left:345.3px;width:17.8px">06</div>
<div class="date" style="left:365px;width:35.8px">2022</div>

<div class="info"></div>
<div class="tab"></div>
<svg class="abs" style="left:500px;top:78px" width="16" height="16" viewBox="500 78 16 16"><g stroke="#fff" stroke-width="1.35" stroke-linecap="round"><line x1="504.7" y1="86" x2="511.9" y2="86"/><line x1="506.4" y1="82.6" x2="510.2" y2="89.400"/><line x1="510.2" y1="82.6" x2="506.4" y2="89.400"/></g></svg>
<div class="para b" style="top:93.1px"><div>Kuba uturere tumwe na tumwe turiho 0 nk’umubare</div><div>w’abanduye&nbsp; uyu munsi ntibisobanuye ko ubwandu</div><div>bwahashize burundu. Bisobanuye gusa ko nta bwandu</div><div class="ll">bwabonetse mu bipimo byahafatiwe.</div></div>
<div class="para " style="top:132.8px"><div>The fact that some districts register 0 new cases does not mean</div><div>that the infection was eliminated; it only means that all the</div><div>laboratory samples collected in those districts tested negative.</div></div>
<div class="para " style="top:165.4px"><div>Le fait que certains districts enregistrent 0 nouveaux cas ne</div><div>signifie pas que l’infection y est éliminée; cela indique seulement</div><div>que tous les échantillons de laboratoire y prélevés ont été testé</div><div class="ll">négatifs</div></div>
<div class="abs" style="left:488.5px;top:128px;width:192.5px;height:0.8px;background:#f6f6f6"></div>
<div class="abs" style="left:488.5px;top:161px;width:192.5px;height:0.8px;background:#f6f6f6"></div>
<div class="foot" style="left:229.6px;letter-spacing:0.5px">114</div>
<div class="foot" style="left:264.4px;letter-spacing:0.48px">+250788202080</div>
<div class="foot" style="left:340.7px;font-size:6.800px;letter-spacing:0;transform:scaleX(0.918);transform-origin:0 50%;top:454.4px">callcenter@rbc.gov.rw</div>
<div class="foot" style="left:455.8px;font-size:6.800px;letter-spacing:0;transform:scaleX(0.93);transform-origin:0 50%;top:454.4px">@RwandaHealth</div>
<svg class="abs" style="left:210px;top:448px" width="260" height="20" viewBox="210 448 260 20">
<g fill="#7b7b7b">
<circle cx="222.4" cy="458" r="4.4"/>
<path d="M257 453.600 a4.400 4.400 0 1 1 -3.700 6.800 l-1.300 2.200 l.4 -3.300 a4.400 4.400 0 0 1 4.600 -5.700z"/>
<path d="M330 456.400 l4.400 -3.300 l4.400 3.300 v5.600 h-8.800z"/>
</g>
<g fill="#fff">
<path id="hs" d="M220.300 455.700 q-.9 .7 -.3 1.900 q1.100 2.300 3.300 3.300 q1.200 .5 1.900 -.4 l-1.200 -1.300 l-1 .5 q-1.200 -.6 -1.700 -1.800 l.5 -.9z"/>
<use href="#hs" transform="translate(34.600,0)"/>
<rect x="331.400" y="455.300" width="6" height="5.200"/>
</g>
<path d="M330 457 l4.400 3 l4.400 -3 v5 h-8.800z" fill="#7b7b7b"/>
<circle cx="334.400" cy="457" r="1.300" fill="none" stroke="#7b7b7b" stroke-width=".7"/>
<g fill="#707070">
<!-- twitter -->
<path transform="translate(420.6,457.6) scale(0.7) translate(-422,-457.3)" d="M417.300 460.100 q2 .2 3 -.8 q-1.400 -.1 -1.800 -1.300 h.8 q-1.500 -.5 -1.500 -2 q.4 .3 .9 .3 q-1.300 -1.100 -.5 -2.600 q1.600 2 4 2.100 q-.3 -1.700 1.200 -2.300 q1.100 -.4 2 .5 q.7 -.1 1.300 -.5 q-.2 .7 -.8 1.100 q.600 0 1.100 -.300 q-.4 .6 -1 1 q.1 3.200 -2.600 4.900 q-3 1.600 -6.100 -.1z"/>
<!-- f -->
<path transform="translate(431.5,458) scale(0.85) translate(-432,-457.800)" d="M431.100 461.800 v-3.600 h-1.100 v-1.400 h1.100 v-1 q0 -1.900 1.900 -1.900 h1.100 v1.400 h-.8 q-.6 0 -.6 .6 v.9 h1.400 l-.2 1.400 h-1.200 v3.600z"/>
<!-- youtube -->
<rect x="446.700" y="457.600" width="5.800" height="4.200" rx="1"/>
<path d="M447.500 454 l.8 1.600 l.8 -1.600 M450.200 455 v1.700 M451.600 455 v1.700" stroke="#707070" stroke-width=".7" fill="none"/>
</g>
<g fill="none" stroke="#707070" stroke-width=".8">
<rect x="437.500" y="455.200" width="5.800" height="5.800" rx="1.600"/>
<circle cx="440.400" cy="458.100" r="1.400"/>
</g>
</svg>
</div></body></html>
